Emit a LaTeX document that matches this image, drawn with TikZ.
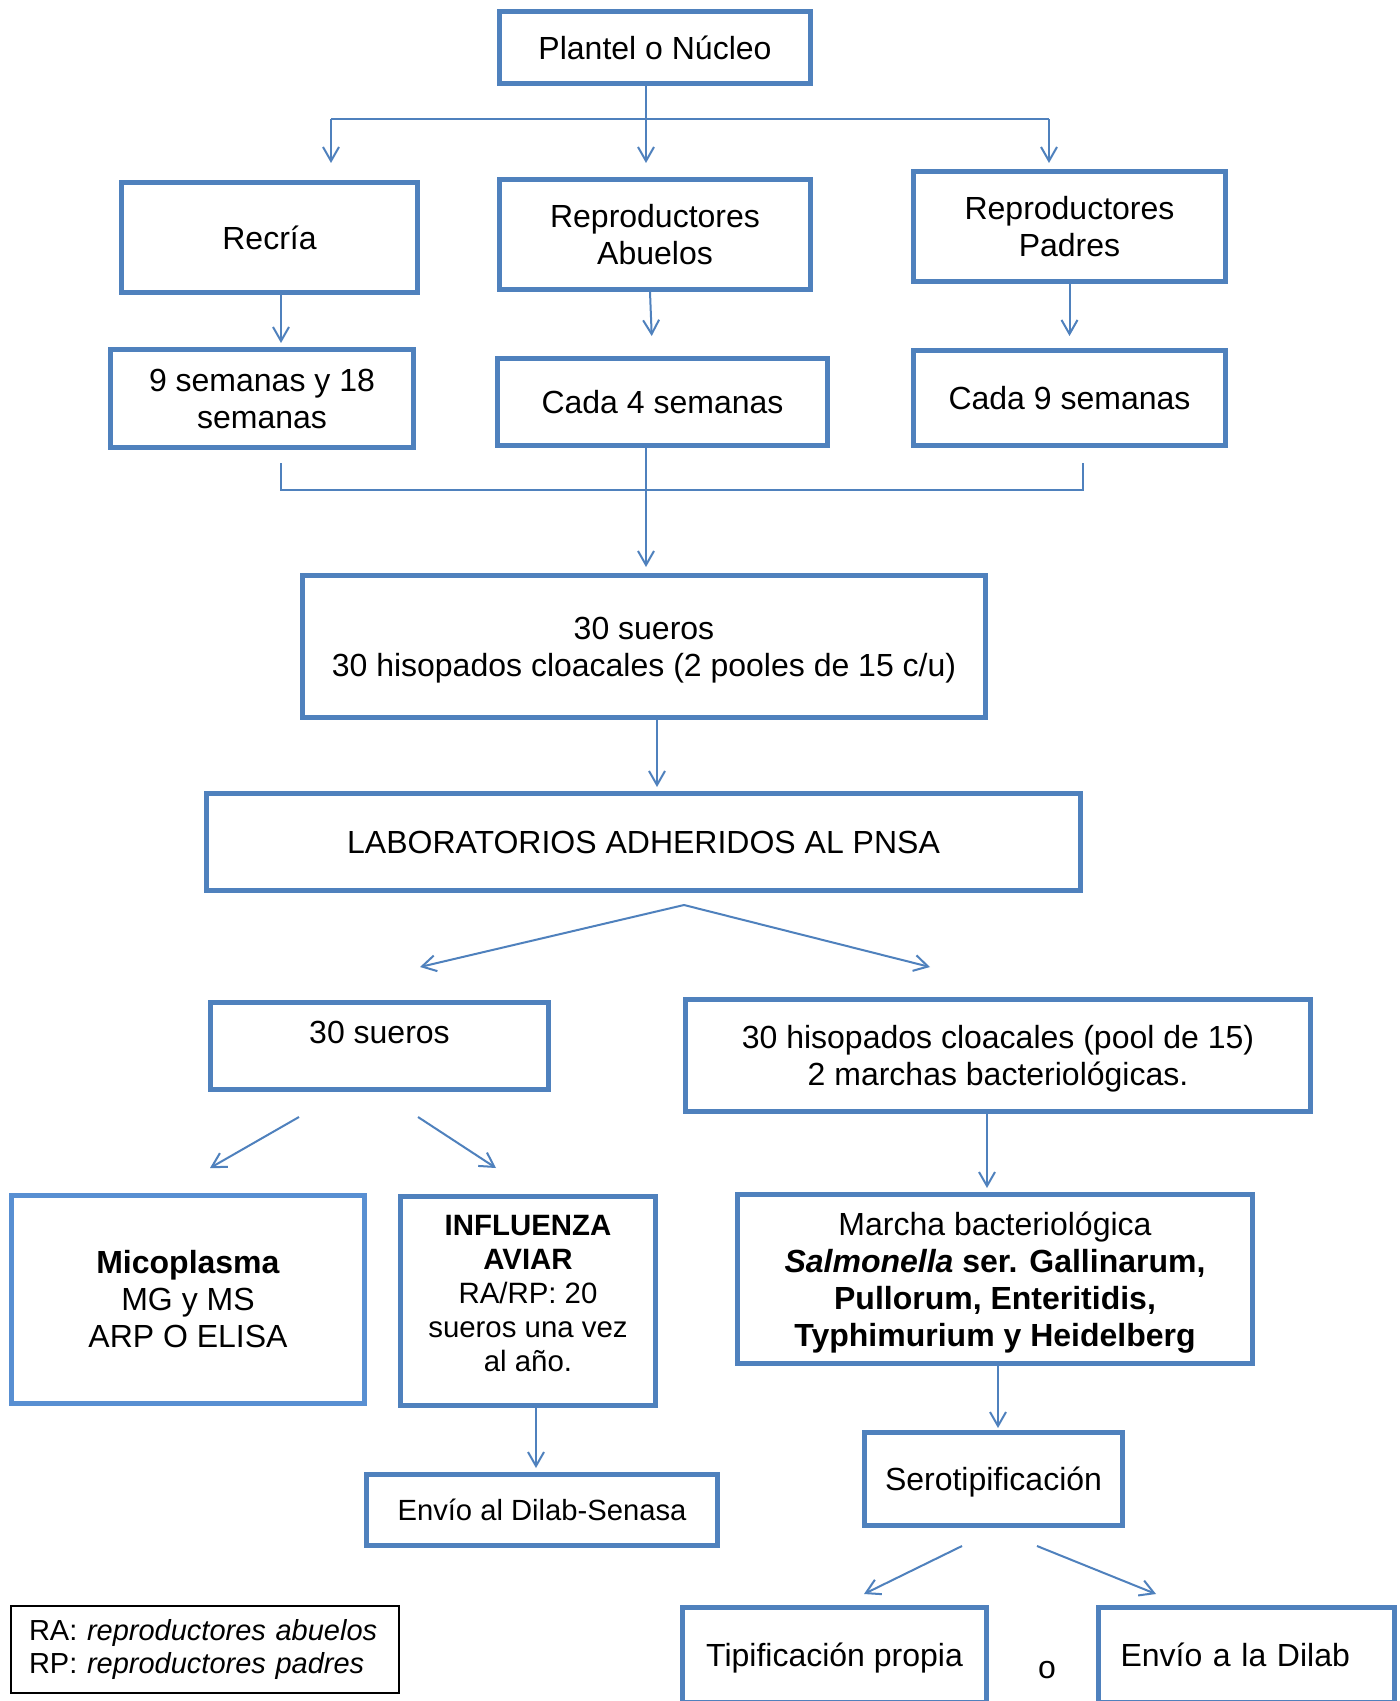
\documentclass[tikz,border=0pt]{standalone}
\usepackage{fontspec}
\setmainfont{Liberation Sans}
\usetikzlibrary{arrows.meta}

\definecolor{azul}{RGB}{79,129,189}
\definecolor{azulclaro}{RGB}{88,143,210}

\tikzset{
	caja/.style={draw=azul, line width=2.5pt, align=center, inner sep=2pt, font=\fontsize{16}{18.5}\selectfont},
	linea/.style={color=azul, line width=1pt},
	flecha/.style={linea, -{Straight Barb[length=7pt,width=8pt]}},
}

\begin{document}
\begin{tikzpicture}[x=0.5pt,y=-0.5pt]

	\fill[white] (0,0) rectangle (1399,1701);
	\useasboundingbox (0,0) rectangle (1399,1701);

	\node[caja, minimum width=155.5pt, minimum height=36pt] (plantel) at (655, 47.5) {Plantel o Núcleo};

	\node[caja, minimum width=148pt, minimum height=55pt] (recria) at (269.5, 237.5) {Recría};
	\node[caja, minimum width=155.5pt, minimum height=55pt] (abuelos) at (655, 234.5) {Reproductores\\Abuelos};
	\node[caja, minimum width=156pt, minimum height=55pt] (padres) at (1069.5, 226.5) {Reproductores\\Padres};

	\node[caja, minimum width=151.5pt, minimum height=49pt] (sem918) at (262, 398.5) {9 semanas y 18\\semanas};
	\node[caja, minimum width=165pt, minimum height=43.5pt] (cada4) at (662.5, 402) {Cada 4 semanas};
	\node[caja, minimum width=156pt, minimum height=47.5pt] (cada9) at (1069.5, 398) {Cada 9 semanas};

	\node[caja, minimum width=341.5pt, minimum height=71pt, text depth=0pt] (muestras) at (644, 646.5) {30 sueros\\30 hisopados cloacales (2 pooles de 15 c/u)};

	\node[caja, minimum width=437pt, minimum height=48.5pt] (lab) at (643.5, 842) {LABORATORIOS ADHERIDOS AL PNSA};

	\node[caja, minimum width=169pt, minimum height=43.5pt, text depth=14pt] (sueros) at (379.5, 1046) {30 sueros};
	\node[caja, minimum width=312.5pt, minimum height=56pt, text depth=0pt] (hisopados) at (998, 1055.5) {30 hisopados cloacales (pool de 15)\\2 marchas bacteriológicas.};

	\node[caja, draw=azulclaro, minimum width=176.5pt, minimum height=104pt] (mico) at (188, 1299.5) {\textbf{Micoplasma}\\MG y MS\\ARP O ELISA};
	\node[caja, minimum width=127.5pt, minimum height=104.5pt, text depth=8pt, font=\fontsize{14.7}{17}\selectfont] (influenza) at (528, 1301) {\textbf{INFLUENZA}\\\textbf{AVIAR}\\RA/RP: 20\\sueros una vez\\al año.};
	\node[caja, minimum width=257.5pt, minimum height=84.5pt, text depth=0pt] (marcha) at (995, 1279) {Marcha bacteriológica\\\textbf{\textit{Salmonella} ser. Gallinarum,}\\\textbf{Pullorum, Enteritidis,}\\\textbf{Typhimurium y Heidelberg}};

	\node[caja, minimum width=175.5pt, minimum height=35.5pt, font=\fontsize{14.6}{17}\selectfont] (senasa) at (542, 1510) {Envío al Dilab-Senasa};
	\node[caja, minimum width=129pt, minimum height=46.5pt, text depth=0pt] (sero) at (993.5, 1479) {Serotipificación};

	\node[caja, minimum width=152pt, minimum height=47.5pt, text depth=0pt] (tipif) at (834.5, 1655) {Tipificación propia};
	\node[caja, minimum height=47.5pt, text width=126pt, inner xsep=11pt, align=left] (dilab) at (1246.5, 1655) {Envío a la Dilab};
	\node[font=\fontsize{16}{18.5}\selectfont] (o) at (1047, 1670) {o};

	\node[draw=black, line width=1pt, minimum height=43.5pt, text width=176pt, inner xsep=9pt, align=left, font=\fontsize{14.5}{16.5}\selectfont] (leyenda) at (205, 1649.5) {RA: \textit{reproductores abuelos}\\RP: \textit{reproductores padres}};

	\coordinate (rA) at (331, 119);
	\coordinate (rC) at (1049, 119);
	\coordinate (pA) at (331, 163);
	\coordinate (pB) at (646, 163);
	\coordinate (pC) at (1049, 163);

	\draw[linea] (rA) -- (rC);
	\path[flecha] (plantel.south -| pB) edge (pB);
	\path[flecha] (rA) edge (pA);
	\path[flecha] (rC) edge (pC);

	\path[flecha, shorten >=2pt] ([xshift=5.75pt]recria.south) edge ([xshift=5.75pt]recria.south |- sem918.north);
	\path[flecha, shorten >=10pt] ([xshift=-2.5pt]abuelos.south) edge ([xshift=-5pt]cada4.north);
	\path[flecha, shorten >=6pt] (padres) edge (cada9);

	\coordinate (m1) at (281, 463);
	\coordinate (m2) at (281, 490);
	\coordinate (m3) at (1083, 490);
	\coordinate (m4) at (1083, 463);
	\draw[linea] (m1) -- (m2) -- (m3) -- (m4);
	\path[flecha, shorten >=3pt] ([xshift=-8.25pt]cada4.south) edge ([xshift=-8.25pt]cada4.south |- muestras.north);

	\path[flecha, shorten >=2pt] ([xshift=6.5pt]muestras.south) edge ([xshift=6.5pt]muestras.south |- lab.north);

	\coordinate (vL) at (684, 905);
	\coordinate (fL) at (420, 967);
	\coordinate (fR) at (930, 967);
	\path[flecha] (vL) edge (fL);
	\path[flecha] (vL) edge (fR);

	\coordinate (s1) at (299, 1117);
	\coordinate (s2) at (210, 1168);
	\coordinate (s3) at (418, 1117);
	\coordinate (s4) at (496, 1168);
	\path[flecha] (s1) edge (s2);
	\path[flecha] (s3) edge (s4);

	\path[flecha, shorten >=2pt] ([xshift=-5.5pt]hisopados.south) edge ([xshift=-5.5pt]hisopados.south |- marcha.north);
	\path[flecha, shorten >=2pt] ([xshift=4pt]influenza.south) edge ([xshift=4pt]influenza.south |- senasa.north);
	\path[flecha, shorten >=1pt] ([xshift=1.5pt]marcha.south) edge ([xshift=1.5pt]marcha.south |- sero.north);

	\coordinate (t1) at (962, 1546);
	\coordinate (t2) at (864, 1594);
	\coordinate (t3) at (1037, 1546);
	\coordinate (t4) at (1156, 1594);
	\path[flecha] (t1) edge (t2);
	\path[flecha] (t3) edge (t4);

\end{tikzpicture}
\end{document}
